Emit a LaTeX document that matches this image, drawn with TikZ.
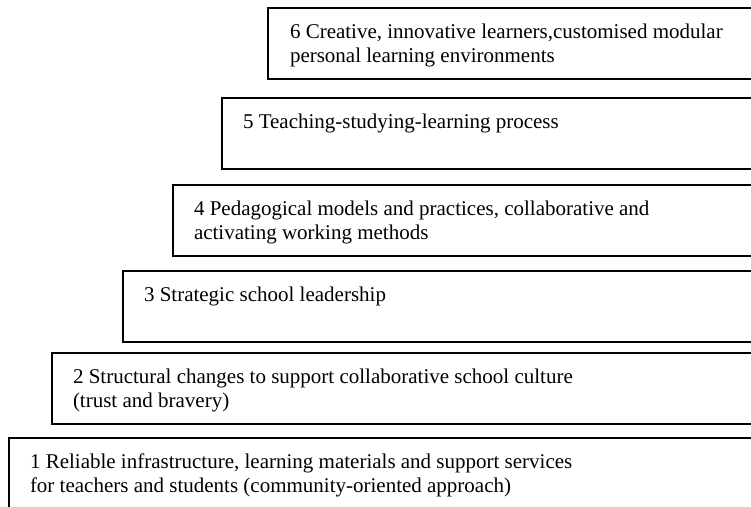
\documentclass[tikz,border=0pt]{standalone}
\usepackage{fontspec}
\setmainfont{Liberation Serif}
\begin{document}
\begin{tikzpicture}[x=1pt,y=-1pt,
  stepbox/.style={draw=black, line width=1.8pt, fill=white, anchor=north west,
    inner sep=0pt, outer sep=0pt, minimum height=71pt, minimum width=#1},
  lbl/.style={anchor=north west, inner sep=0pt, outer sep=0pt, align=left,
    font=\fontsize{21}{24}\selectfont}]
\useasboundingbox (0,0) rectangle (751,506);
\clip (0,0) rectangle (751,506);
% boxes (right edges run off the picture)
\node[stepbox=512pt] (b6) at (268,8) {};
\node[stepbox=558pt] (b5) at (222,98) {};
\node[stepbox=607pt] (b4) at (173,185) {};
\node[stepbox=657pt] (b3) at (123,271) {};
\node[stepbox=728pt] (b2) at (52,353) {};
\node[stepbox=771pt, minimum height=100pt] (b1) at (9,438) {};
% labels
\node[lbl] (t6) at ([xshift=22pt,yshift=-14pt]b6.north west) {\strut 6 Creative, innovative learners,customised modular\\\strut personal learning environments};
\node[lbl] (t5) at ([xshift=21pt,yshift=-14pt]b5.north west) {\strut 5 Teaching-studying-learning process};
\node[lbl] (t4) at ([xshift=21pt,yshift=-14pt]b4.north west) {\strut 4 Pedagogical models and practices, collaborative and\\\strut activating working methods};
\node[lbl] (t3) at ([xshift=21pt,yshift=-14pt]b3.north west) {\strut 3 Strategic school leadership};
\node[lbl] (t2) at ([xshift=21pt,yshift=-14pt]b2.north west) {\strut 2 Structural changes to support collaborative school culture\\\strut (trust and bravery)};
\node[lbl] (t1) at ([xshift=21pt,yshift=-14pt]b1.north west) {\strut 1 Reliable infrastructure, learning materials and support services\\\strut for teachers and students (community-oriented approach)};
\end{tikzpicture}
\end{document}
